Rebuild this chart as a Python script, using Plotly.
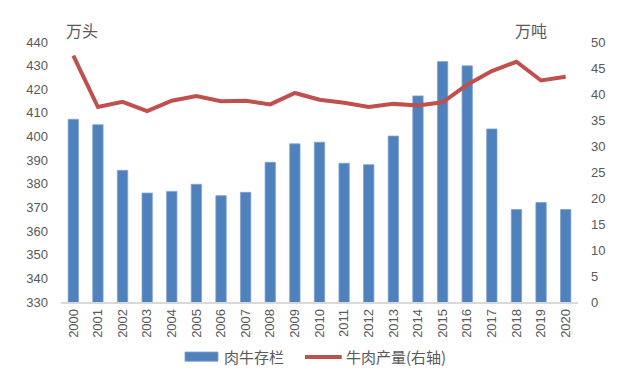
import plotly.graph_objects as go

years = [str(y) for y in range(2000, 2021)]
cattle_stock = [407.3, 405.0, 385.7, 376.1, 376.8, 379.8, 375.0, 376.4, 389.1, 396.9,
                397.6, 388.7, 388.1, 400.2, 417.2, 431.7, 429.9, 403.2, 369.1, 372.1, 369.1]
beef_output = [47.4, 37.5, 38.5, 36.7, 38.7, 39.6, 38.6, 38.7, 38.0, 40.2,
               38.9, 38.3, 37.5, 38.1, 37.8, 38.4, 41.8, 44.4, 46.2, 42.6, 43.3]

bar_name = "肉牛存栏"
line_name = "牛肉产量(右轴)"
bar_color = "#4F81BD"
line_color = "#C0504D"

tick_font = dict(family="Liberation Sans, Arial, sans-serif", size=13, color="#595959")
cjk = "Noto Sans CJK SC, sans-serif"

fig = go.Figure()
fig.add_trace(go.Bar(
    x=years, y=cattle_stock, name=bar_name,
    marker=dict(color=bar_color, line=dict(color="#7FA2D2", width=0.8)),
    yaxis="y", showlegend=False,
))
fig.add_trace(go.Scatter(
    x=years, y=beef_output, name=line_name, mode="lines",
    line=dict(color=line_color, width=4),
    yaxis="y2", showlegend=False,
))

shapes = [
    dict(type="rect", xref="paper", yref="paper", x0=0.2398, x1=0.3037, y0=-0.228, y1=-0.1923,
         fillcolor=bar_color, line=dict(color="#7FA2D2", width=0.8)),
    dict(type="line", xref="paper", yref="paper", x0=0.472, x1=0.543, y0=-0.2115, y1=-0.2115,
         line=dict(color=line_color, width=4)),
]

# page body has an 8px margin, so the figure is drawn 8px smaller and offset
fig.update_layout(
    width=632, height=365,
    margin=dict(l=53, r=62, t=34, b=71),
    paper_bgcolor="white", plot_bgcolor="white",
    bargap=0.58,
    showlegend=False,
    xaxis=dict(type="category", tickangle=-90, tickfont=tick_font, showgrid=False,
               showline=True, linecolor="#D9D9D9", linewidth=1.5, ticks="", ticklen=0),
    yaxis=dict(range=[330, 440], dtick=10, tickfont=tick_font, showgrid=False,
               showline=False, zeroline=False, ticks="", ticklabelstandoff=12),
    yaxis2=dict(range=[0, 50], dtick=5, overlaying="y", side="right", tickfont=tick_font,
                showgrid=False, showline=False, zeroline=False, ticks="", ticklabelstandoff=12),
    shapes=shapes,
    annotations=[
        dict(text="万头", xref="paper", yref="paper", x=0.005, y=1.045, xanchor="left",
             yanchor="middle", showarrow=False, font=dict(family=cjk, size=16, color="#595959")),
        dict(text="万吨", xref="paper", yref="paper", x=0.874, y=1.045, xanchor="left",
             yanchor="middle", showarrow=False, font=dict(family=cjk, size=16, color="#595959")),
        dict(text=bar_name, xref="paper", yref="paper", x=0.3113, y=-0.21, xanchor="left",
             yanchor="middle", showarrow=False, font=dict(family=cjk, size=15, color="#595959")),
        dict(text=line_name, xref="paper", yref="paper", x=0.547, y=-0.21, xanchor="left",
             yanchor="middle", showarrow=False, font=dict(family=cjk, size=15, color="#595959")),
    ],
)

fig.write_html("out.html")
